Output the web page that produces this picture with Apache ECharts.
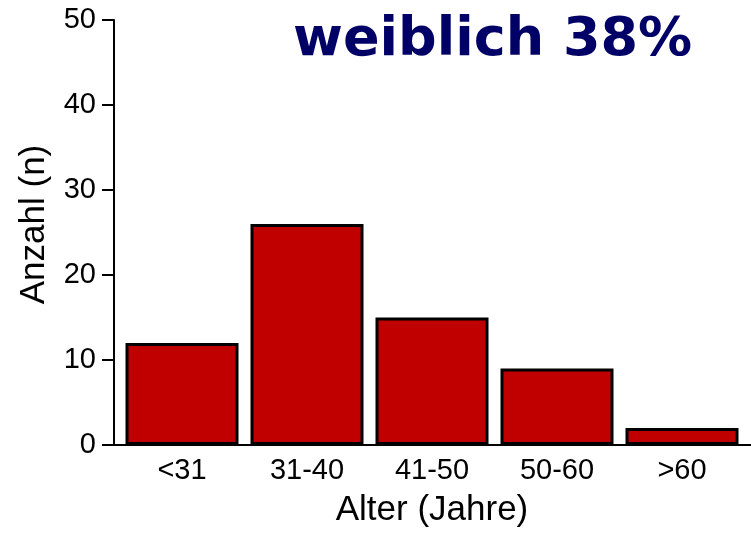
<!DOCTYPE html>
<html>
<head>
<meta charset="utf-8">
<script src="https://cdn.jsdelivr.net/npm/echarts@6/dist/echarts.min.js"></script>
<style>
html, body { margin: 0; padding: 0; background: #fff; }
#chart { width: 751px; height: 534px; }
</style>
</head>
<body>
<div id="chart"></div>
<script>
var categories = ['<31', '31-40', '41-50', '50-60', '>60']
var counts = [12, 26, 15, 9, 2]
var yTicks = [0, 10, 20, 30, 40, 50]

var chart = echarts.init(document.getElementById('chart'))

var font = 'Liberation Sans, Arial, sans-serif'

var option = {
	animation: false,
	title: {
		text: 'weiblich 38%',
		left: 288,
		top: 9,
		textStyle: {
			color: '#000066',
			fontFamily: 'DejaVu Sans',
			fontWeight: 'bold',
			fontSize: 54
		}
	},
	grid: [
		{ left: 114, right: 0, top: 20, bottom: 89 },
		{ left: 119.5, right: 6.5, top: 20, bottom: 89 }
	],
	xAxis: [{
		gridIndex: 0,
		type: 'category',
		data: categories,
		axisLine: { lineStyle: { color: '#000', width: 2 } },
		axisTick: { show: false },
		axisLabel: { show: false }
	}, {
		gridIndex: 1,
		type: 'category',
		data: categories,
		axisLine: { show: false },
		axisTick: { show: false },
		axisLabel: { color: '#000', fontSize: 29, fontFamily: font, margin: 11 },
		name: 'Alter (Jahre)',
		nameLocation: 'middle',
		nameGap: 48,
		nameTextStyle: { color: '#000', fontSize: 35, fontFamily: font }
	}],
	yAxis: [{
		gridIndex: 0,
		type: 'value',
		min: yTicks[0],
		max: yTicks[yTicks.length - 1],
		interval: 10,
		splitLine: { show: false },
		axisLine: { show: true, lineStyle: { color: '#000', width: 2 } },
		axisTick: { show: true, length: 12, lineStyle: { color: '#000', width: 2 } },
		axisLabel: { color: '#000', fontSize: 29, fontFamily: font, margin: 18 },
		name: 'Anzahl (n)',
		nameLocation: 'middle',
		nameGap: 62,
		nameRotate: 90,
		nameTextStyle: { color: '#000', fontSize: 35, fontFamily: font, padding: [0, 0, 0, 16] }
	}, {
		gridIndex: 1,
		type: 'value',
		min: 0,
		max: 50,
		show: false
	}],
	series: [{
		type: 'bar',
		xAxisIndex: 1,
		yAxisIndex: 1,
		data: counts,
		barWidth: 113,
		itemStyle: {
			color: '#c00000',
			borderColor: '#000',
			borderWidth: 3
		}
	}]
}

chart.setOption(option)
</script>
</body>
</html>
